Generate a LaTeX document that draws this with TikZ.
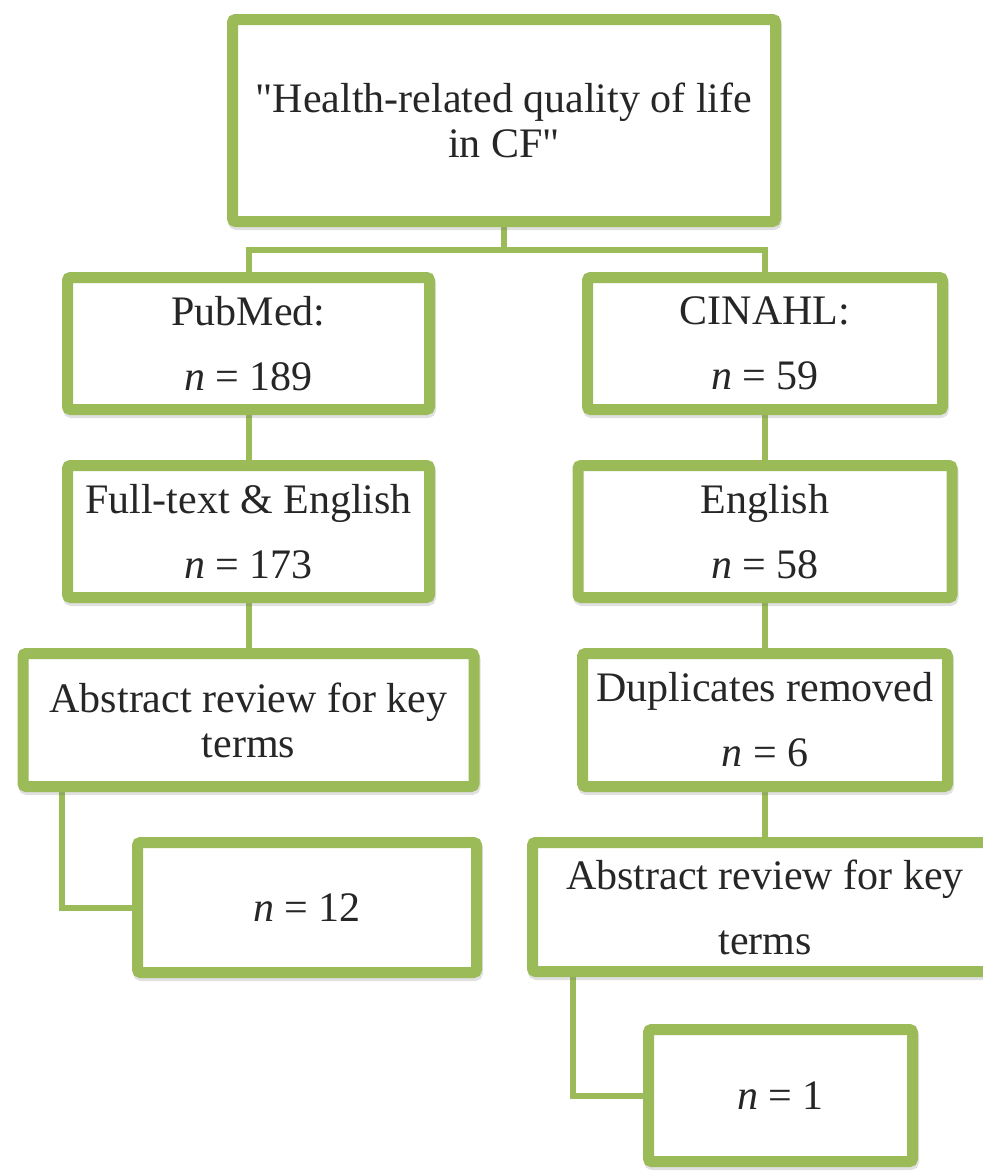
\documentclass[tikz,border=0pt]{standalone}
\usepackage{fontspec}
\setmainfont{Liberation Serif}
\newfontfamily\plainquotes{Liberation Serif}
\usetikzlibrary{positioning, calc, backgrounds, shadows}
\definecolor{hqgreen}{HTML}{9BBB59}
\definecolor{hqtext}{HTML}{262626}

\begin{document}
\begin{tikzpicture}[
  x=1pt, y=-1pt,
  every node/.style={font=\fontsize{42}{65}\selectfont, text=hqtext},
  flowbox/.style={rectangle, rounded corners=3pt, draw=hqgreen, line width=11pt, fill=white, align=center, inner sep=0pt,
    drop shadow={shadow xshift=1pt, shadow yshift=-3pt, opacity=0.2, fill=black!60, draw=black!60, line width=11pt}},
  tightbox/.style={flowbox, font=\fontsize{42}{45}\selectfont},
  link/.style={draw=hqgreen, line width=6pt},
]
\useasboundingbox (0,0) rectangle (983,1171);
\clip (0,0) rectangle (983,1171);

\node[tightbox, minimum width=543pt, minimum height=202pt] (query) at (504, 120.5) {\plainquotes "Health-related quality of life\\\plainquotes in CF"};

\node[flowbox, minimum width=362pt, minimum height=132pt] (pubmed) at (248.5, 343.5) {PubMed:\\\textit{n} = 189};
\node[flowbox, minimum width=355pt, minimum height=132pt] (cinahl) at (765, 343.5) {CINAHL:\\\textit{n} = 59};

\node[flowbox, minimum width=362pt, minimum height=132pt] (fulltext) at (248.5, 531.5) {Full-text \& English\\\textit{n} = 173};
\node[flowbox, minimum width=374pt, minimum height=132pt] (english) at (765, 531.5) {English\\\textit{n} = 58};

\node[tightbox, minimum width=451pt, minimum height=133pt] (abstractL) at (248.5, 720) {Abstract review for key\\terms};
\node[flowbox, minimum width=365pt, minimum height=133pt] (duplicates) at (765, 720) {Duplicates removed\\\textit{n} = 6};

\node[flowbox, minimum width=339pt, minimum height=130pt] (finalL) at (307, 907.5) {\textit{n} = 12};
\node[flowbox, minimum width=465pt, minimum height=129pt] (abstractR) at (765, 907) {Abstract review for key\\terms};

\node[flowbox, minimum width=264pt, minimum height=132pt] (finalR) at (780.5, 1095.5) {\textit{n} = 1};

% connectors behind the boxes
\begin{scope}[on background layer]
\coordinate (split) at (504, 250);
\draw[link] (query) -- (split);
\draw[link] (pubmed.north) |- (split) -| (cinahl.north);
\draw[link] (pubmed) -- (fulltext);
\draw[link] (fulltext) -- (abstractL);
\draw[link] (cinahl) -- (english);
\draw[link] (english) -- (duplicates);
\draw[link] (duplicates) -- (abstractR);
\draw[link] ([xshift=44.5pt]abstractL.south west) |- (finalL.west);
\draw[link] ([xshift=45.5pt]abstractR.south west) |- (finalR.west);
\end{scope}
\end{tikzpicture}
\end{document}
